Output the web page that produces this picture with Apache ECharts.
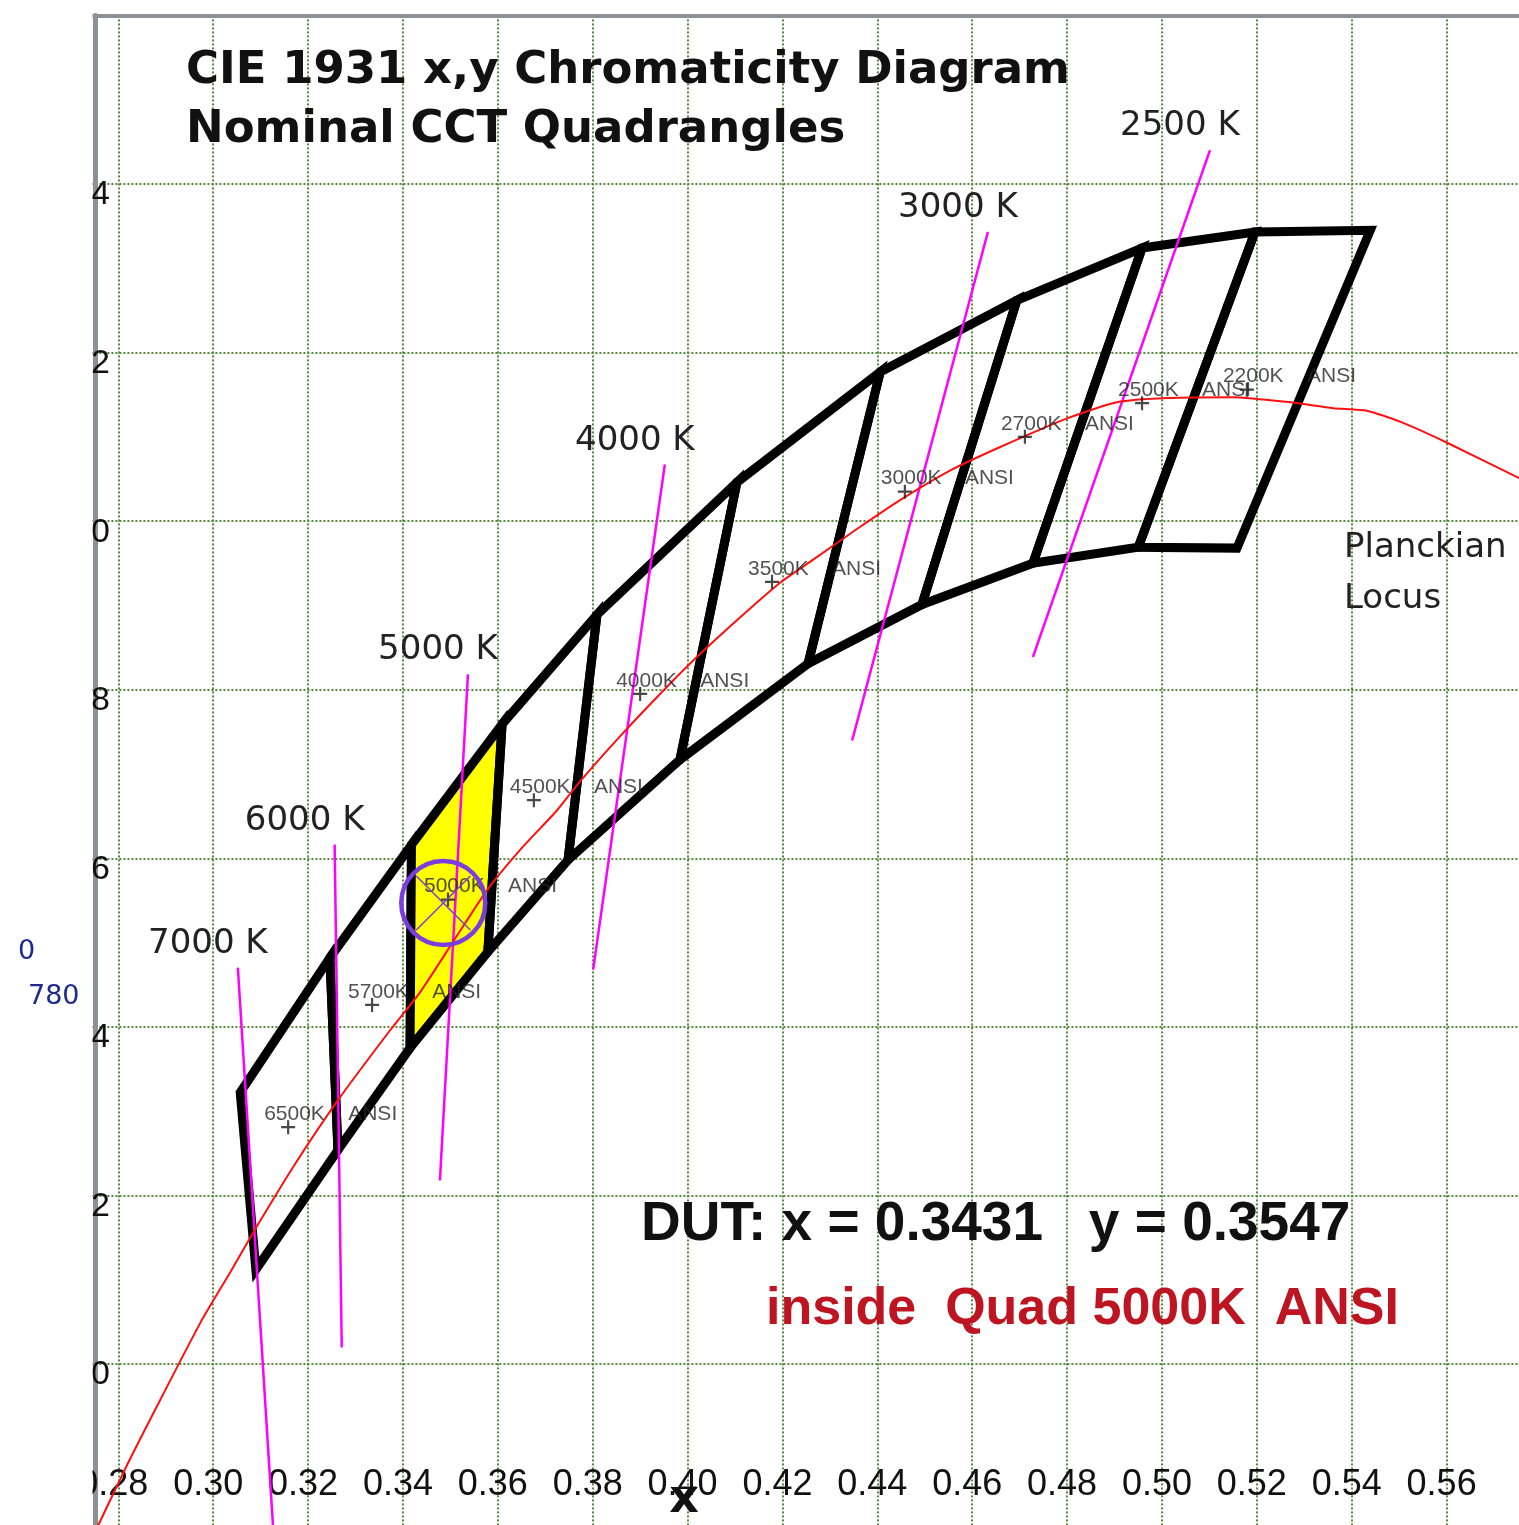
<!DOCTYPE html>
<html>
<head>
<meta charset="utf-8">
<title>CIE 1931 x,y Chromaticity Diagram – Nominal CCT Quadrangles</title>
<script src="https://cdn.jsdelivr.net/npm/echarts@6/dist/echarts.min.js"></script>
<style>
html,body{margin:0;padding:0;background:#fff;overflow:hidden;width:1519px;height:1525px;}
#chart{width:1560px;height:1560px;}
</style>
</head>
<body>
<div id="chart"></div>
<script>
// ---------------- data (x,y chromaticity as read against the plotted axes) ----------------
const xTickLabels = ['0.28','0.30','0.32','0.34','0.36','0.38','0.40','0.42','0.44','0.46','0.48','0.50','0.52','0.54','0.56'];
const yTickLabels = ['0.30','0.32','0.34','0.36','0.38','0.40','0.42','0.44'];

// ANSI nominal CCT quadrangles: shared upper and lower boundary vertices (left to right)
const quadNames = ['6500K','5700K','5000K','4500K','4000K','3500K','3000K','2700K','2500K','2200K'];
const quadTopX = [0.3057,0.3246,0.3418,0.3609,0.3809,0.4104,0.4406,0.4694,0.4958,0.5196,0.5439];
const quadTopY = [0.3322,0.3482,0.3616,0.3759,0.3889,0.4046,0.4177,0.4262,0.4324,0.4343,0.4345];
const quadBotX = [0.3090,0.3263,0.3415,0.3579,0.3748,0.3984,0.4254,0.4494,0.4728,0.4950,0.5158];
const quadBotY = [0.3112,0.3254,0.3375,0.3489,0.3598,0.3717,0.3831,0.3901,0.3950,0.3969,0.3968];
// quadrangle centre points
const quadCenterX = [0.3158,0.3335,0.3495,0.3676,0.3900,0.4178,0.4458,0.4711,0.4958,0.5179];
const quadCenterY = [0.3281,0.3426,0.3551,0.3669,0.3795,0.3928,0.4035,0.4100,0.4140,0.4156];
const selectedQuad = '5000K';

// iso-CCT lines
const isoNames = ['7000 K','6000 K','5000 K','4000 K','3000 K','2500 K'];
const isoTopX = [0.3052,0.3256,0.3537,0.3952,0.4633,0.5101];
const isoTopY = [0.3470,0.3616,0.3818,0.4067,0.4343,0.4440];
const isoBotX = [0.3127,0.3271,0.3478,0.3801,0.4347,0.4728];
const isoBotY = [0.2800,0.3020,0.3218,0.3468,0.3740,0.3839];

// Planckian locus
const locusX = [0.2753,0.2820,0.2888,0.2974,0.3036,0.3095,0.3170,0.3263,0.3373,0.3436,0.3508,0.3577,0.3647,0.3725,0.3773,0.3858,0.3942,0.4020,0.4111,0.4195,0.4264,0.4363,0.4448,0.4553,0.4659,0.4800,0.4905,0.5011,0.5150,0.5270,0.5361,0.5432,0.5502,0.5601,0.5753];
const locusY = [0.2803,0.2882,0.2957,0.3050,0.3109,0.3166,0.3235,0.3313,0.3396,0.3441,0.3503,0.3562,0.3610,0.3657,0.3691,0.3745,0.3795,0.3839,0.3886,0.3927,0.3954,0.3993,0.4025,0.4060,0.4088,0.4122,0.4141,0.4146,0.4147,0.4141,0.4134,0.4131,0.4118,0.4093,0.4051];

// device under test (plotted position) and its reported values
const dutX = 0.3485, dutY = 0.3547;
const dutTextX = '0.3431', dutTextY = '0.3547';

// ---------------- layout ----------------
const GRID_LEFT = 23.42, GRID_TOP = 15.43, GRID_W = 1518.08, GRID_H = 1517.15;
const AXIS_X_PX = 95;
const gridColor = '#55873a';

const chart = echarts.init(document.getElementById('chart'), null, {renderer: 'canvas'});

const quadData = quadNames.map((n, i) => ({
  name: n,
  value: [quadTopX[i], quadTopY[i], quadTopX[i+1], quadTopY[i+1], quadBotX[i+1], quadBotY[i+1], quadBotX[i], quadBotY[i]]
}));

const isoSeries = isoNames.map((n, i) => ({
  type: 'line',
  name: n,
  z: 3,
  silent: true,
  symbol: 'circle',
  symbolSize: 1,
  showSymbol: true,
  itemStyle: {color: '#ff00ff'},
  lineStyle: {color: '#ff00ff', width: 2.5},
  label: {show: false},
  data: [
    {value: [isoTopX[i], isoTopY[i]], label: {show: true, formatter: n, position: 'inside', offset: [-30, -24], align: 'center', verticalAlign: 'middle', fontFamily: 'DejaVu Sans', fontSize: 34, color: '#222'}},
    {value: [isoBotX[i], isoBotY[i]]}
  ]
}));

const option = {
  animation: false,
  backgroundColor: '#fff',
  grid: {left: GRID_LEFT, top: GRID_TOP, width: GRID_W, height: GRID_H, containLabel: false},
  xAxis: [{
    type: 'value', min: 0.26, max: 0.58, interval: 0.02, position: 'bottom',
    axisLine: {show: false, onZero: false}, axisTick: {show: false},
    splitLine: {show: true, lineStyle: {color: gridColor, width: 2, type: [2, 2]}},
    axisLabel: {
      show: true, inside: true, margin: 47.3, verticalAlign: 'middle', padding: [0, 10, 0, 0],
      fontFamily: 'Liberation Sans', fontSize: 36, color: '#111',
      formatter: v => { const s = v.toFixed(2); return xTickLabels.includes(s) ? s : ''; }
    }
  }, {
    type: 'value', min: 0.26, max: 0.58, position: 'top',
    axisLine: {show: true, onZero: false, lineStyle: {color: '#8c9196', width: 4}},
    axisTick: {show: false}, axisLabel: {show: false}, splitLine: {show: false}
  }],
  yAxis: [{
    type: 'value', min: 0.28, max: 0.46, interval: 0.02, position: 'left',
    offset: -(AXIS_X_PX - GRID_LEFT),
    axisLine: {show: true, onZero: false, lineStyle: {color: '#8c9196', width: 5}},
    axisTick: {show: false},
    splitLine: {show: true, lineStyle: {color: gridColor, width: 2, type: [2, 2]}},
    axisLabel: {
      show: true, margin: -15, align: 'right', verticalAlign: 'top', lineHeight: 22,
      fontFamily: 'Liberation Sans', fontSize: 34, color: '#111',
      formatter: v => { const s = v.toFixed(2); return yTickLabels.includes(s) ? s : ''; }
    }
  }],
  series: [
    {
      type: 'custom', name: 'quads', z: 2, silent: true,
      coordinateSystem: 'cartesian2d', xAxisIndex: 0, yAxisIndex: 0,
      encode: {x: [0, 2, 4, 6], y: [1, 3, 5, 7]},
      data: quadData,
      renderItem: (params, api) => {
        const pts = [0, 2, 4, 6].map(k => api.coord([api.value(k), api.value(k + 1)]));
        const sel = quadNames[params.dataIndex] === selectedQuad;
        return {type: 'polygon', shape: {points: pts},
          style: {fill: sel ? '#ffff00' : 'none', stroke: '#000', lineWidth: 9, lineJoin: 'miter', miterLimit: 4}};
      }
    },
    ...isoSeries,
    {
      type: 'line', name: 'Planckian Locus', z: 4, silent: true,
      showSymbol: false, smooth: 0.2,
      lineStyle: {color: '#ff1010', width: 2},
      data: locusX.map((x, i) => [x, locusY[i]])
    },
    {
      type: 'scatter', name: 'quad centres', z: 5, silent: true,
      symbol: 'path://M0,5.5H13V7.5H0Z M5.5,0H7.5V13H5.5Z', symbolSize: 14,
      itemStyle: {color: '#1a1a1a'},
      label: {
        show: true, position: 'inside', offset: [-24, -13], align: 'left', verticalAlign: 'middle',
        fontFamily: 'Liberation Sans', fontSize: 21, color: '#262626',
        formatter: p => p.name + '    ANSI'
      },
      data: quadNames.map((n, i) => ({name: n, value: [quadCenterX[i], quadCenterY[i]]}))
    },
    {
      type: 'custom', name: 'DUT', z: 6, silent: true,
      coordinateSystem: 'cartesian2d', xAxisIndex: 0, yAxisIndex: 0,
      data: [[dutX, dutY]],
      renderItem: (params, api) => {
        const c = api.coord([api.value(0), api.value(1)]);
        const col = '#7b3de0';
        return {type: 'group', children: [
          {type: 'circle', shape: {cx: c[0], cy: c[1], r: 42}, style: {fill: 'none', stroke: col, lineWidth: 4.5}},
          {type: 'line', shape: {x1: c[0] - 27, y1: c[1] - 27, x2: c[0] + 27, y2: c[1] + 27}, style: {stroke: col, lineWidth: 1.5}},
          {type: 'line', shape: {x1: c[0] + 27, y1: c[1] - 27, x2: c[0] - 27, y2: c[1] + 27}, style: {stroke: col, lineWidth: 1.5}}
        ]};
      }
    }
  ],
  graphic: [
    {type: 'rect', z: 100, silent: true, shape: {x: 0, y: 0, width: 92.5, height: 1560}, style: {fill: '#fff'}},
    {type: 'text', z: 101, x: 18, y: 952, style: {text: '0', font: '27px "DejaVu Sans"', fill: '#1f2a8f', verticalAlign: 'middle'}},
    {type: 'text', z: 101, x: 28, y: 997, style: {text: '780', font: '27px "DejaVu Sans"', fill: '#1f2a8f', verticalAlign: 'middle'}},
    {type: 'text', z: 101, x: 186, y: 71, style: {text: 'CIE 1931 x,y Chromaticity Diagram', font: 'bold 45px "DejaVu Sans"', fill: '#111', verticalAlign: 'middle'}},
    {type: 'text', z: 101, x: 186, y: 130, style: {text: 'Nominal CCT Quadrangles', font: 'bold 45px "DejaVu Sans"', fill: '#111', verticalAlign: 'middle'}},
    {type: 'text', z: 101, x: 1344, y: 548, style: {text: 'Planckian', font: '34px "DejaVu Sans"', fill: '#222', verticalAlign: 'middle'}},
    {type: 'text', z: 101, x: 1344, y: 599, style: {text: 'Locus', font: '34px "DejaVu Sans"', fill: '#222', verticalAlign: 'middle'}},
    {type: 'text', z: 101, x: 641, y: 1225, style: {text: 'DUT: x = ' + dutTextX + '   y = ' + dutTextY, font: 'bold 55px "Liberation Sans"', fill: '#111', verticalAlign: 'middle'}},
    {type: 'text', z: 101, x: 766, y: 1310, style: {text: 'inside  Quad ' + selectedQuad + '  ANSI', font: 'bold 52px "Liberation Sans"', fill: '#be1522', verticalAlign: 'middle'}},
    {type: 'text', z: 101, x: 684, y: 1500, style: {text: 'x', font: 'bold 46px "DejaVu Sans"', fill: '#111', align: 'center', verticalAlign: 'middle'}}
  ]
};
chart.setOption(option);
</script>
</body>
</html>
